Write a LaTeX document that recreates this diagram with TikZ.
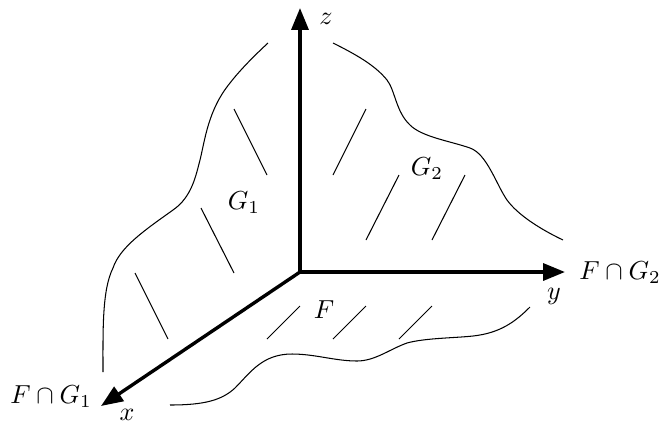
\documentclass[tikz,border=0pt]{standalone}
\usepackage{amsmath}
\usepackage{tikz}
\usetikzlibrary{arrows.meta}

\begin{document}
\begin{tikzpicture}[
  x=0.384pt, y=-0.384pt,
  axis/.style={line width=1.3pt, -{Triangle[length=8.4pt, width=6.5pt]}},
  edgeline/.style={line width=0.4pt},
  hatch/.style={line width=0.4pt},
  lbl/.style={inner sep=0pt},
]
\useasboundingbox (0,0) rectangle (661,423);

%% Axes
\coordinate (origin) at (300,272);
\coordinate (tipx) at (101,406);
\coordinate (tipy) at (565,272);
\coordinate (tipz) at (300,8);
\draw[axis] (origin) -- (tipx);
\draw[axis] (origin) -- (tipy);
\draw[axis] (origin) -- (tipz);

%% Outer curves of the three faces
\draw[edgeline] (103,372) .. controls (103,330) and (102,290) .. (113,268)
  .. controls (120,247) and (145,230) .. (173,210)
  .. controls (192,197) and (196,175) .. (200,160)
  .. controls (205,140) and (208,110) .. (230,83)
  .. controls (240,70) and (255,55) .. (268,43);
\draw[edgeline] (333,43) .. controls (355,54) and (375,65) .. (387,80)
  .. controls (395,90) and (396,112) .. (410,125)
  .. controls (422,137) and (450,141) .. (470,148)
  .. controls (487,154) and (496,184) .. (507,200)
  .. controls (518,215) and (540,229) .. (563,240);
\draw[edgeline] (170,405) .. controls (205,405) and (222,400) .. (235,388)
  .. controls (250,373) and (262,354) .. (292,354)
  .. controls (315,354) and (335,361) .. (357,361)
  .. controls (375,361) and (390,349) .. (407,343)
  .. controls (425,338) and (455,338) .. (473,336)
  .. controls (500,333) and (515,322) .. (530,307);

%% Hatching
\foreach \xa/\ya/\xb/\yb in {234/109/267/175, 201/208/234/273, 135/273/168/339,
    366/109/333/175, 399/175/366/240, 465/175/432/240,
    300/306/267/339, 366/306/333/339, 432/306/399/339}{
  \draw[hatch] (\xa,\ya) -- (\xb,\yb);
}

%% Labels
\node[lbl] (labelz) at (326,19) {$z$};
\node[lbl] (labely) at (554,296) {$y$};
\node[lbl] (labelx) at (127,415) {$x$};
\node[lbl] (labelfgtwo) at (620,273) {$F\cap G_2$};
\node[lbl] (labelfgone) at (51,397) {$F\cap G_1$};
\node[lbl] (labelgone) at (244,203) {$G_1$};
\node[lbl] (labelgtwo) at (427,169) {$G_2$};
\node[lbl] (labelf) at (324,310) {$F$};
\end{tikzpicture}
\end{document}
